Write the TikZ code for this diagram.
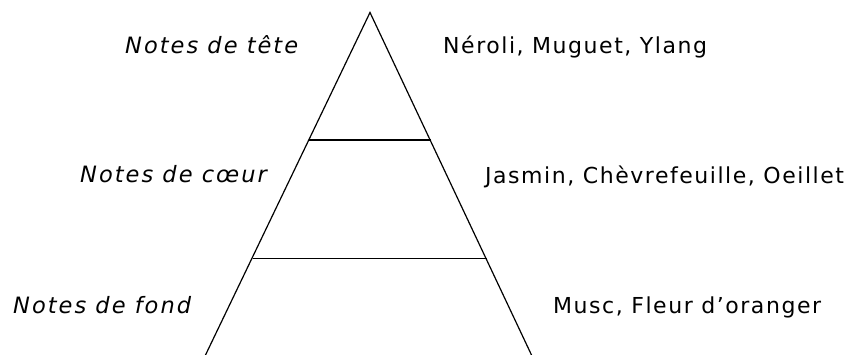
\documentclass[tikz,border=0pt]{standalone}
\usepackage{fontspec}
\setmainfont{DejaVu Sans}
\newfontfamily\lblfont[LetterSpace=9]{DejaVu Sans}
\newfontfamily\ingfont[LetterSpace=7]{DejaVu Sans}
\begin{document}
\begin{tikzpicture}[x=1pt,y=-1pt,
  lbl/.style={anchor=base west,inner sep=0pt,font=\lblfont\fontsize{22.5}{26}\selectfont\itshape},
  ing/.style={anchor=base west,inner sep=0pt,font=\ingfont\fontsize{22}{26}\selectfont},
  edge/.style={line width=1.2pt,black}]
\useasboundingbox (0,0) rectangle (858,355);
\coordinate (apex) at (370,12.5);
\coordinate (bl) at (205.5,355);
\coordinate (br) at (531.5,355);
\coordinate (l1) at (309,140);
\coordinate (r1) at (430.5,140);
\coordinate (l2) at (252.5,258.5);
\coordinate (r2) at (487,258.5);
\draw[edge] (bl) -- (apex) -- (br);
\draw[edge] (l1) -- (r1);
\draw[edge] (l2) -- (r2);
\node[lbl] (t1) at (125,54) {Notes de tête};
\node[ing] (i1) at (443,54) {Néroli, Muguet, Ylang};
\node[lbl] (t2) at (80,183) {Notes de cœur};
\node[ing] (i2) at (485,184) {Jasmin, Chèvrefeuille, Oeillet};
\node[lbl] (t3) at (13,313) {Notes de fond};
\node[ing] (i3) at (553,313) {Musc, Fleur d’oranger};
\end{tikzpicture}
\end{document}
